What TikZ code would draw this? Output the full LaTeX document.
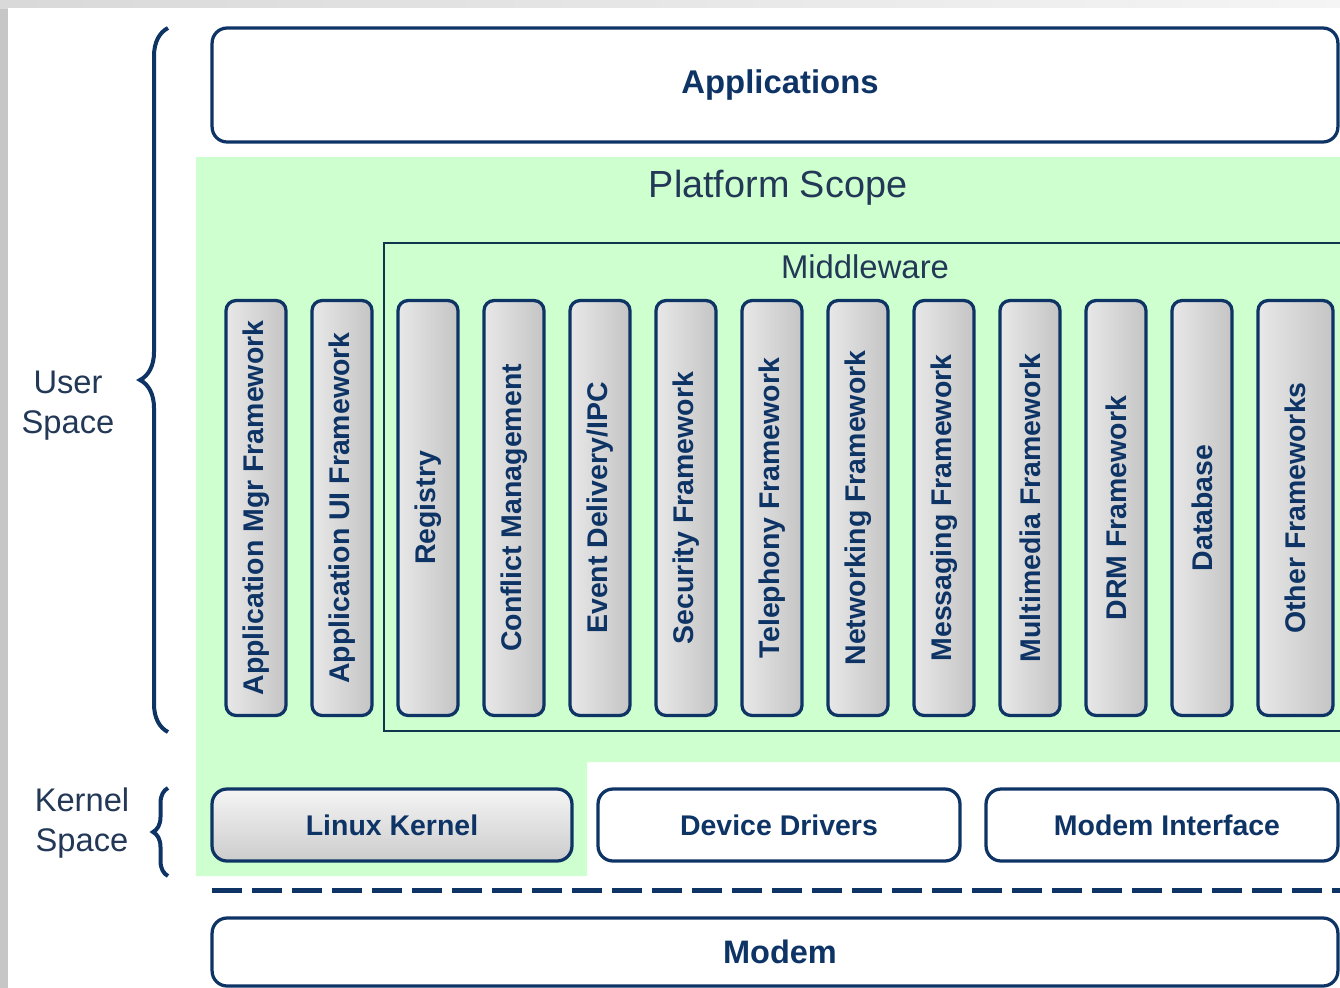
\documentclass[tikz,border=0pt]{standalone}
\usepackage{fontspec}
\setmainfont{Liberation Sans}
\usetikzlibrary{decorations.pathreplacing}
\definecolor{navy}{RGB}{14,52,102}
\definecolor{labelgray}{RGB}{34,56,86}
\definecolor{mwline}{RGB}{16,54,78}
\definecolor{scopegreen}{RGB}{206,255,206}
\tikzset{
  layerbox/.style={draw=navy, line width=0.065cm, rounded corners=0.3cm, inner sep=0pt,
    text=navy, font=\bfseries\fontsize{16.2}{19}\selectfont},
  whitebox/.style={layerbox, fill=white},
  greybox/.style={layerbox, top color=gray!8, bottom color=gray!40},
  fwcol/.style={layerbox, rounded corners=0.2cm, left color=gray!18, right color=gray!46,
    minimum width=1.2cm, minimum height=8.3cm},
  sidelabel/.style={text=labelgray, align=center, font=\fontsize{18.6}{22.7}\selectfont},
  spacebrace/.style={draw=navy, line width=0.08cm, decorate}
}
\begin{document}
\begin{tikzpicture}[x=0.02cm,y=-0.02cm]
			\useasboundingbox (0,0) rectangle (1340,988);
			\clip (0,0) rectangle (1340,988);
			% frame
			\fill[gray!45] (0,0) rectangle (1340,988);
			\shade[left color=gray!30, right color=gray!8] (0,0) rectangle (1340,8);
			\fill[white] (8,8) rectangle (1340,988);
			% platform scope
			\fill[scopegreen] (196,157) -- (1340,157) -- (1340,762) -- (587,762) -- (587,876) -- (196,876) -- cycle;
			\draw[mwline, line width=0.045cm] (1345,243) -- (384,243) -- (384,731) -- (1345,731);
			\node[text=labelgray, font=\fontsize{21.5}{25}\selectfont] (scope) at (778,188) {Platform Scope};
			\node[text=labelgray, font=\fontsize{18.7}{22}\selectfont] (mw) at (865,267) {Middleware};
			% layers
			\node[whitebox, minimum width=22.52cm, minimum height=2.28cm, font=\bfseries\fontsize{18.7}{22}\selectfont] (apps) at (775,85) {\hspace*{0.2cm}Applications};
			\foreach \t [count=\i] in {Application Mgr Framework, Application UI Framework, Registry,
			  Conflict Management, {Event Delivery/IPC}, Security Framework, Telephony Framework,
			  Networking Framework, Messaging Framework, Multimedia Framework, DRM Framework, Database}
			  \node[fwcol] (fw\i) at ({256+86*(\i-1)},508) {\rotatebox{90}{\t}};
			\node[fwcol, minimum width=1.5cm] (fw13) at (1295.5,508) {\rotatebox{90}{Other Frameworks}};
			\node[greybox, minimum width=7.2cm, minimum height=1.44cm] (kernel) at (392,825) {Linux Kernel};
			\node[whitebox, minimum width=7.24cm, minimum height=1.44cm] (drivers) at (779,825) {Device Drivers};
			\node[whitebox, minimum width=7.04cm, minimum height=1.44cm] (modemif) at (1162,825) {\hspace*{0.2cm}Modem Interface};
			\draw[navy, line width=0.1cm, dash pattern=on 0.6cm off 0.2cm] (212,890) -- (1345,890);
			\node[whitebox, minimum width=22.52cm, minimum height=1.36cm, font=\bfseries\fontsize{18.5}{22}\selectfont] (modem) at (775,952) {\hspace*{0.2cm}Modem};
			% spaces
			\draw[spacebrace, decoration={brace, amplitude=0.56cm}] (168,732) -- (168,28);
			\draw[spacebrace, decoration={brace, amplitude=0.3cm}] (168,876) -- (168,788);
			\node[sidelabel] (user) at (68,406) {User\\Space};
			\node[sidelabel] (kspace) at (82,823) {Kernel\\Space};
		\end{tikzpicture}
\end{document}
